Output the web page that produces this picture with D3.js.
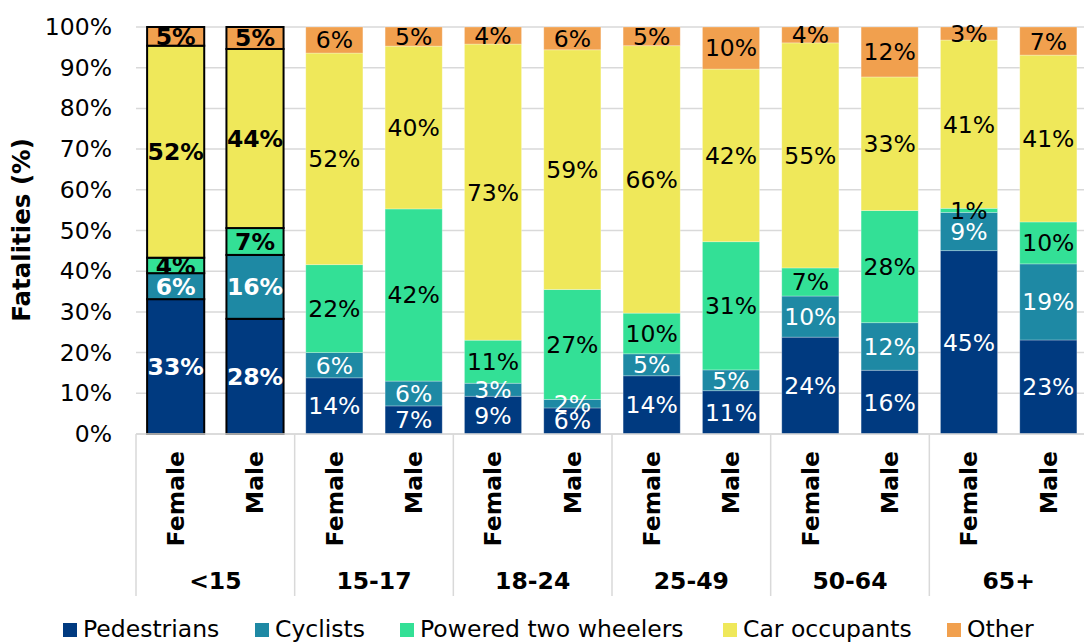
<!DOCTYPE html>
<html><head><meta charset="utf-8">
<script src="https://cdn.jsdelivr.net/npm/d3@7"></script>
<style>body{margin:0;background:#fff}svg{display:block}text{font-family:"DejaVu Sans",Verdana,sans-serif}</style>
</head><body><svg id="c" width="1084" height="644"></svg>
<script>
const ageGroups = ["<15","15-17","18-24","25-49","50-64","65+"];
const sexes = ["Female","Male"];
const seriesNames = ["Pedestrians","Cyclists","Powered two wheelers","Car occupants","Other"];
const seriesColors = ["#003A80","#1E89A4","#33E096","#EFE85A","#F1A04E"];
// values per bar (order: <15 F, <15 M, 15-17 F, 15-17 M, ...)
const pedestrians = [33.2,28.3,13.8,6.9,9.3,6.4,14.3,10.6,23.8,15.7,45.0,23.1];
const cyclists    = [6.4,15.7,6.2,6.1,3.2,2.1,5.4,5.1,10.1,11.7,9.4,18.7];
const ptw         = [3.8,6.6,21.6,42.3,10.6,27.0,10.0,31.4,6.9,27.6,1.0,10.3];
const car         = [52.2,44.0,52.0,40.0,72.9,58.9,65.7,42.3,55.3,32.9,41.3,41.0];
const other       = [4.6,5.4,6.4,4.7,4.2,5.6,4.6,10.3,3.9,12.3,3.2,6.9];
const yTicks = [0,10,20,30,40,50,60,70,80,90,100];

(function(){
const FS = 23.5;
const series = [pedestrians,cyclists,ptw,car,other];
const bars = [];
ageGroups.forEach((g,gi)=>sexes.forEach((s,si)=>bars.push({group:g,sex:s,idx:gi*2+si})));

const svg = d3.select("#c");
const pLeft=136, pRight=1088, pTop=27, pBottom=434;
const x = d3.scaleBand().domain(bars.map(b=>b.idx)).range([pLeft,pRight]).paddingInner(0.28).paddingOuter(0.14);
const y = d3.scaleLinear().domain([0,100]).range([pBottom,pTop]);

svg.append("g").selectAll("line").data(yTicks).join("line")
  .attr("x1",pLeft).attr("x2",pRight).attr("y1",d=>y(d)).attr("y2",d=>y(d))
  .attr("stroke","#D9D9D9").attr("stroke-width",1.5);

const yAxis = d3.axisLeft(y).tickValues(yTicks).tickFormat(d=>d+"%").tickSize(0).tickPadding(0);
const ya = svg.append("g").attr("transform",`translate(${112},0)`).call(yAxis);
ya.select(".domain").remove();
ya.selectAll("text").attr("font-size",FS).attr("fill","#000").attr("font-family","DejaVu Sans");

svg.append("text").attr("transform",`translate(30,230) rotate(-90)`).attr("text-anchor","middle")
  .attr("font-size",FS+1).attr("font-weight","bold").text("Fatalities (%)");

const rows = bars.map(b=>{const o={idx:b.idx}; seriesNames.forEach((n,i)=>o[n]=series[i][b.idx]); return o;});
const stack = d3.stack().keys(seriesNames).offset(d3.stackOffsetExpand)(rows);

stack.forEach((layer,li)=>{
  svg.append("g").selectAll("rect").data(layer).join("rect")
    .attr("x",d=>x(d.data.idx)).attr("width",x.bandwidth())
    .attr("y",d=>y(d[1]*100)).attr("height",d=>y(d[0]*100)-y(d[1]*100))
    .attr("fill",seriesColors[li])
    .attr("stroke",d=>d.data.idx<2?"#000":"rgba(255,255,255,0.35)")
    .attr("stroke-width",d=>d.data.idx<2?2:0.8);
});
stack.forEach((layer,li)=>{
  svg.append("g").selectAll("text").data(layer).join("text")
    .attr("x",d=>x(d.data.idx)+x.bandwidth()/2)
    .attr("y",d=>(y(d[0]*100)+y(d[1]*100))/2).attr("dy","0.36em")
    .attr("text-anchor","middle").attr("font-size",FS)
    .attr("font-weight",d=>d.data.idx<2?"bold":"normal")
    .attr("fill",li<2?"#fff":"#000")
    .text(d=>Math.round(series[li][d.data.idx])+"%");
});

svg.append("line").attr("x1",pLeft).attr("x2",pRight).attr("y1",pBottom).attr("y2",pBottom).attr("stroke","#D9D9D9").attr("stroke-width",1.5);
const groupW = (pRight-pLeft)/ageGroups.length;
svg.append("g").selectAll("line").data(d3.range(ageGroups.length+1)).join("line")
  .attr("x1",d=>pLeft+d*groupW).attr("x2",d=>pLeft+d*groupW).attr("y1",pBottom).attr("y2",596)
  .attr("stroke","#D9D9D9").attr("stroke-width",1.5);
svg.append("g").selectAll("text").data(bars).join("text")
  .attr("transform",d=>`translate(${x(d.idx)+x.bandwidth()/2},451) rotate(-90)`)
  .attr("text-anchor","end").attr("dy","0.36em").attr("font-size",FS).attr("font-weight","bold")
  .text(d=>d.sex);
svg.append("g").selectAll("text").data(ageGroups).join("text")
  .attr("x",(d,i)=>pLeft+(i+0.5)*groupW).attr("y",589).attr("text-anchor","middle")
  .attr("font-size",FS).attr("font-weight","bold").text(d=>d);

const legendX = [63,255,400,723,947];
const lg = svg.append("g");
seriesNames.forEach((n,i)=>{
  lg.append("rect").attr("x",legendX[i]).attr("y",623).attr("width",14).attr("height",14).attr("fill",seriesColors[i]);
  lg.append("text").attr("x",legendX[i]+20).attr("y",637).attr("font-size",FS).text(n);
});
})();
</script></body></html>
